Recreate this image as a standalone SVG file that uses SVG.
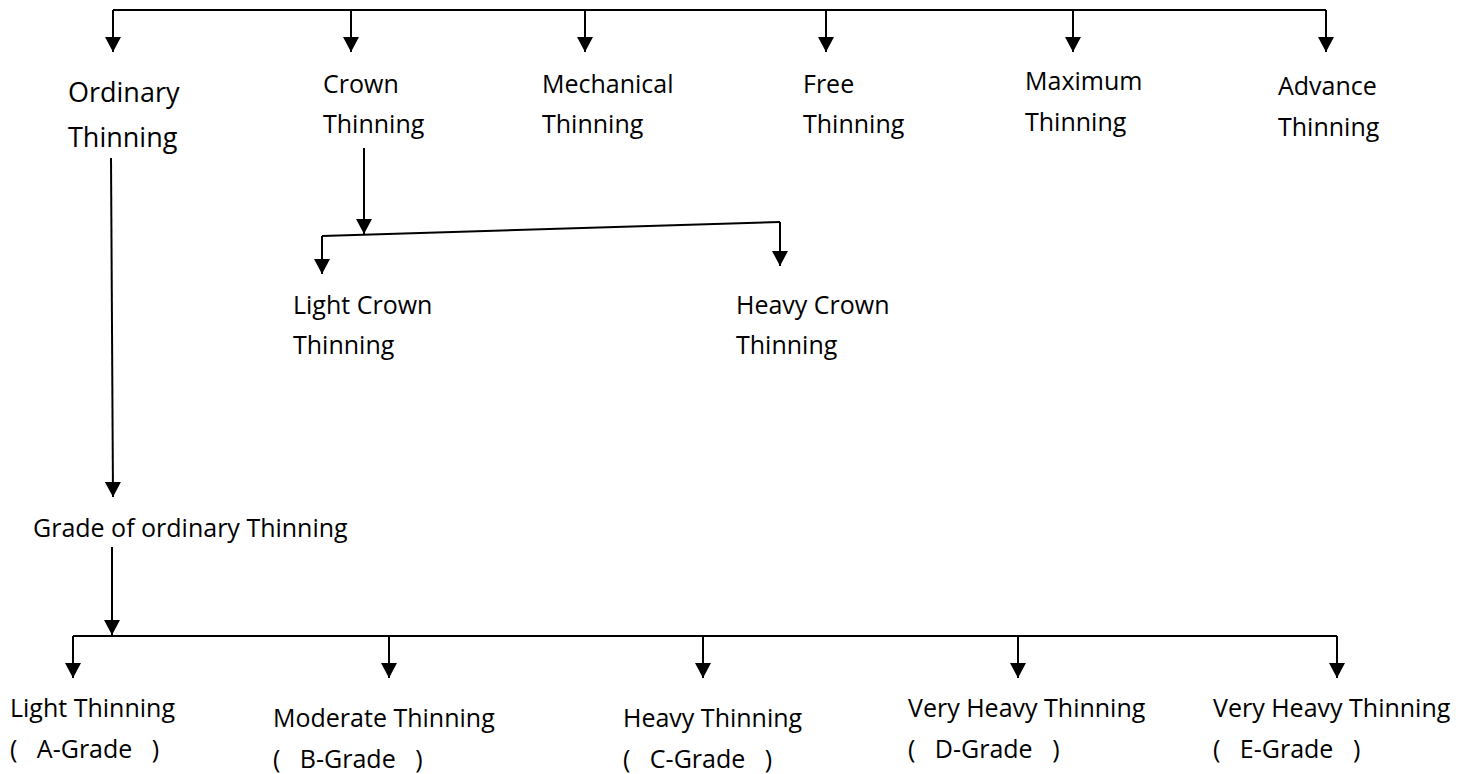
<svg xmlns="http://www.w3.org/2000/svg" width="1477" height="774" viewBox="0 0 1477 774">
<style>
text{font-family:"Open Sans","Noto Sans","Liberation Sans",sans-serif;font-size:25px;fill:#000}
.big{font-size:27px}
.c{stroke:#000;stroke-width:2;fill:none}
</style>
<defs>
<marker id="ah" markerUnits="userSpaceOnUse" markerWidth="16" markerHeight="16" viewBox="0 0 15 16" refX="15" refY="8" orient="auto">
<path d="M0,0 L15,8 L0,16 z" fill="#000"/>
</marker>
</defs>
<rect width="1477" height="774" fill="#fff"/>
<g id="connectors" class="c">
<polyline points="113,10 1326,10"/>
<line x1="113" y1="10" x2="113" y2="52" marker-end="url(#ah)"/>
<line x1="351" y1="10" x2="351" y2="52" marker-end="url(#ah)"/>
<line x1="585" y1="10" x2="585" y2="52" marker-end="url(#ah)"/>
<line x1="826" y1="10" x2="826" y2="52" marker-end="url(#ah)"/>
<line x1="1073" y1="10" x2="1073" y2="52" marker-end="url(#ah)"/>
<line x1="1326" y1="10" x2="1326" y2="52" marker-end="url(#ah)"/>
<line x1="364" y1="148" x2="364" y2="234" marker-end="url(#ah)"/>
<polyline points="322,236 780,222"/>
<line x1="322" y1="236" x2="322" y2="274" marker-end="url(#ah)"/>
<line x1="780" y1="222" x2="780" y2="266" marker-end="url(#ah)"/>
<line x1="111" y1="158" x2="113" y2="497" marker-end="url(#ah)"/>
<line x1="112" y1="547" x2="112" y2="635" marker-end="url(#ah)"/>
<polyline points="73,636 1337,636"/>
<line x1="73" y1="636" x2="73" y2="678" marker-end="url(#ah)"/>
<line x1="389" y1="636" x2="389" y2="678" marker-end="url(#ah)"/>
<line x1="703" y1="636" x2="703" y2="678" marker-end="url(#ah)"/>
<line x1="1018" y1="636" x2="1018" y2="678" marker-end="url(#ah)"/>
<line x1="1337" y1="636" x2="1337" y2="678" marker-end="url(#ah)"/>
</g>
<g id="ordinary"><text class="big" x="68" y="102">Ordinary</text><text class="big" x="68" y="147">Thinning</text></g>
<g id="crown"><text x="323" y="93">Crown</text><text x="323" y="133">Thinning</text></g>
<g id="mechanical"><text x="542" y="93">Mechanical</text><text x="542" y="133">Thinning</text></g>
<g id="free"><text x="803" y="93">Free</text><text x="803" y="133">Thinning</text></g>
<g id="maximum"><text x="1025" y="90">Maximum</text><text x="1025" y="131">Thinning</text></g>
<g id="advance"><text x="1278" y="95">Advance</text><text x="1278" y="136">Thinning</text></g>
<g id="light-crown"><text x="293" y="314">Light Crown</text><text x="293" y="354">Thinning</text></g>
<g id="heavy-crown"><text x="736" y="314">Heavy Crown</text><text x="736" y="354">Thinning</text></g>
<g id="grade"><text x="33" y="537">Grade of ordinary Thinning</text></g>
<g id="light"><text x="10" y="717">Light Thinning</text><text x="10" y="758" xml:space="preserve">(   A-Grade   )</text></g>
<g id="moderate"><text x="273" y="727">Moderate Thinning</text><text x="273" y="768" xml:space="preserve">(   B-Grade   )</text></g>
<g id="heavy"><text x="623" y="727">Heavy Thinning</text><text x="623" y="768" xml:space="preserve">(   C-Grade   )</text></g>
<g id="very-heavy-d"><text x="908" y="717">Very Heavy Thinning</text><text x="908" y="758" xml:space="preserve">(   D-Grade   )</text></g>
<g id="very-heavy-e"><text x="1213" y="717">Very Heavy Thinning</text><text x="1213" y="758" xml:space="preserve">(   E-Grade   )</text></g>
</svg>
